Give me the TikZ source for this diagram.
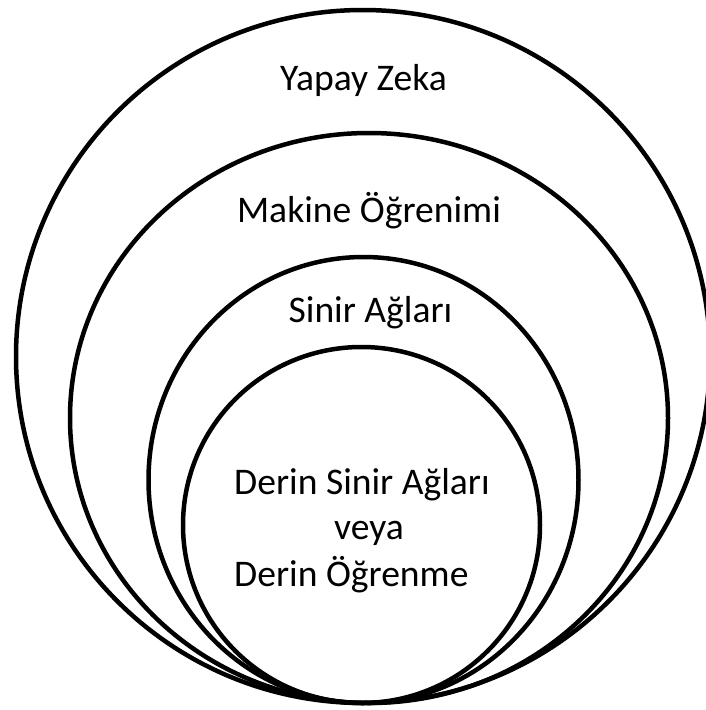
\documentclass[tikz,border=0pt]{standalone}
\usepackage{fontspec}
\setmainfont{Carlito}
\begin{document}
\begin{tikzpicture}[x=1pt,y=-1pt,
  ring/.style={draw=black,line width=4.5pt},
  lbl/.style={font=\fontsize{37.6}{41}\selectfont,anchor=base,inner sep=0pt,text=black}]
\useasboundingbox (0,0) rectangle (705,710);
\fill[white] (0,0) rectangle (705,710);
% nested circles, all touching at the bottom
\draw[ring] (363,356.5) ellipse [x radius=347pt, y radius=346.5pt];
\draw[ring] (369,418) ellipse [x radius=299pt, y radius=285pt];
\draw[ring] (363.5,480) ellipse [x radius=215pt, y radius=223pt];
\draw[ring] (361.5,525) ellipse [x radius=178.5pt, y radius=178pt];
% labels
\node[lbl] (ai) at (363.5,90) {Yapay Zeka};
\node[lbl] (ml) at (369,222.7) {Makine Öğrenimi};
\node[lbl] (nn) at (370.5,322.7) {Sinir Ağları};
\node[lbl,anchor=base west] (dnn) at (234,494) {Derin Sinir Ağları};
\node[lbl] (or) at (369,539) {veya};
\node[lbl,anchor=base west] (dl) at (234,586) {Derin Öğrenme};
\end{tikzpicture}
\end{document}
